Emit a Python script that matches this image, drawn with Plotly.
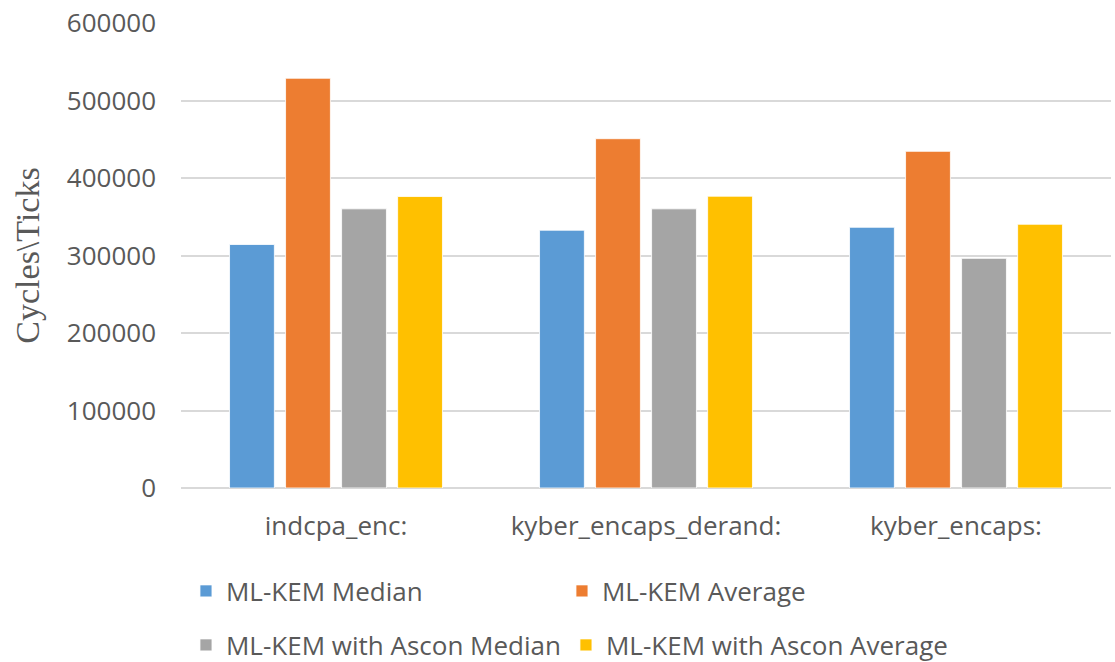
import plotly.graph_objects as go

categories = ["indcpa_enc:", "kyber_encaps_derand:", "kyber_encaps:"]
mlkem_median = [314200, 332600, 336400]
mlkem_average = [528700, 450700, 434400]
ascon_median = [360200, 360200, 296300]
ascon_average = [376100, 376500, 340300]

series = [
    ("ML-KEM Median", mlkem_median, "#5B9BD5", "legend"),
    ("ML-KEM Average", mlkem_average, "#ED7D31", "legend"),
    ("ML-KEM with Ascon Median", ascon_median, "#A5A5A5", "legend2"),
    ("ML-KEM with Ascon Average", ascon_average, "#FFC000", "legend2"),
]

TEXT = "#595959"
FONT = "Open Sans"

fig = go.Figure()
for name, vals, color, leg in series:
    fig.add_trace(go.Bar(
        x=categories, y=vals, name=name, legend=leg,
        marker=dict(color=color, line=dict(color="rgba(255,255,255,0.8)", width=1)),
    ))

legend_common = dict(
    orientation="h", xref="container", yref="container",
    xanchor="left", yanchor="middle",
    font=dict(family=FONT, size=26, color=TEXT),
    bgcolor="rgba(0,0,0,0)", itemwidth=30,
)

fig.update_layout(
    width=1115, height=662,
    margin=dict(l=181, r=4, t=19, b=174),
    paper_bgcolor="white", plot_bgcolor="white",
    barmode="group", bargap=0.277, bargroupgap=0.2,
    legend=dict(x=0.1668, y=1 - 591 / 662, entrywidth=331, **legend_common),
    legend2=dict(x=0.1668, y=1 - 645 / 662, **legend_common),
    xaxis=dict(
        showgrid=False, showline=False, ticks="",
        tickfont=dict(family=FONT, size=26, color=TEXT),
        ticklabelstandoff=20,
    ),
    yaxis=dict(
        range=[0, 600000], dtick=100000, tickformat="d",
        showgrid=True, gridcolor="#D9D9D9", gridwidth=2,
        zeroline=True, zerolinecolor="#D9D9D9", zerolinewidth=2,
        showline=False, ticks="",
        tickfont=dict(family=FONT, size=26, color=TEXT),
        ticklabelstandoff=24,
        title=dict(text="Cycles\\Ticks", standoff=16,
                   font=dict(family="Liberation Serif", size=34, color=TEXT)),
    ),
)

fig.write_html("out.html")
